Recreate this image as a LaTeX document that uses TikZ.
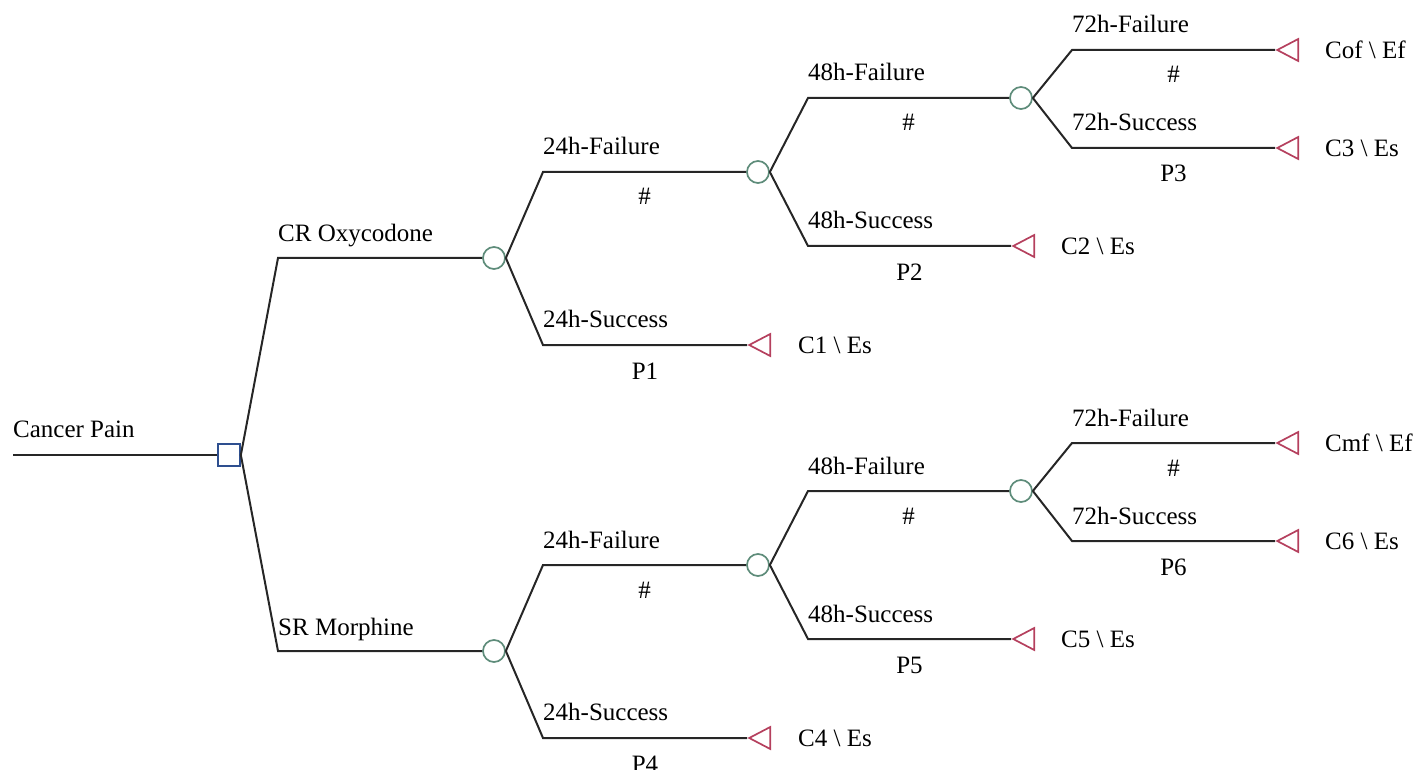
\documentclass[tikz,border=0pt]{standalone}
\usepackage{fontspec}
\setmainfont{Liberation Serif}
\usetikzlibrary{shapes.geometric,calc}
\definecolor{chancec}{HTML}{5E8C7A}
\definecolor{decc}{HTML}{2E4F8F}
\definecolor{termc}{HTML}{B5405E}
\tikzset{
  branch/.style={line width=2pt, draw=black!85, line join=miter},
  chance/.style={circle, draw=chancec, line width=1.7pt, minimum size=22pt, inner sep=0pt, fill=white},
  decision/.style={rectangle, draw=decc, line width=1.7pt, minimum size=22pt, inner sep=0pt, fill=white},
  terminal/.style={isosceles triangle, isosceles triangle stretches, shape border rotate=180,
    draw=termc, line width=1.7pt, minimum width=22pt, minimum height=21pt, inner sep=0pt},
  lbl/.style={anchor=base west, inner sep=0pt, font=\fontsize{25}{30}\selectfont},
  prob/.style={anchor=base, inner sep=0pt, font=\fontsize{25}{30}\selectfont},
  tlbl/.style={anchor=west, inner sep=0pt, font=\fontsize{25}{30}\selectfont},
}
\newcommand\halftree[8]{%
  \coordinate (k0) at (278,258);
  \node[chance] (A) at (494,258) {};
  \coordinate (k1) at (543,172);
  \node[chance] (B) at (758,172) {};
  \coordinate (k2) at (543,345);
  \node[terminal, anchor=apex] (T1) at (747,345) {};
  \coordinate (k3) at (808,98);
  \node[chance] (C) at (1021,98) {};
  \coordinate (k4) at (808,246);
  \node[terminal, anchor=apex] (T2) at (1011,246) {};
  \coordinate (k5) at (1072,50);
  \node[terminal, anchor=apex] (T3) at (1275,50) {};
  \coordinate (k6) at (1072,148);
  \node[terminal, anchor=apex] (T4) at (1275,148) {};
  \draw[branch] (A.east) -- (k1) -- (B.west);
  \draw[branch] (A.east) -- (k2) -- (T1.apex);
  \draw[branch] (B.east) -- (k3) -- (C.west);
  \draw[branch] (B.east) -- (k4) -- (T2.apex);
  \draw[branch] (C.east) -- (k5) -- (T3.apex);
  \draw[branch] (C.east) -- (k6) -- (T4.apex);
  \node[lbl] (lmain) at (278,242) {#1};
  \node[lbl] (l24f) at (543,155) {24h-Failure};
  \node[lbl] (l24s) at (543,327) {24h-Success};
  \node[lbl] (l48f) at (808,81) {48h-Failure};
  \node[lbl] (l48s) at (808,229) {48h-Success};
  \node[lbl] (l72f) at (1072,33) {72h-Failure};
  \node[lbl] (l72s) at (1072,131) {72h-Success};
  \node[prob] (h24) at ($(k1)!0.5!(B.west)+(0,33)$) {\#};
  \node[prob] (h48) at ($(k3)!0.5!(C.west)+(0,33)$) {\#};
  \node[prob] (h72) at ($(k5)!0.5!(T3.apex)+(0,33)$) {\#};
  \node[prob] (p24) at ($(k2)!0.5!(T1.apex)+(0,34)$) {#8};
  \node[prob] (p48) at ($(k4)!0.5!(T2.apex)+(0,34)$) {#7};
  \node[prob] (p72) at ($(k6)!0.5!(T4.apex)+(0,34)$) {#6};
  \node[tlbl] (t1) at ($(T1.apex)+(51,0)$) {#5};
  \node[tlbl] (t2) at ($(T2.apex)+(50,0)$) {#4};
  \node[tlbl] (t3) at ($(T3.apex)+(50,0)$) {#2};
  \node[tlbl] (t4) at ($(T4.apex)+(50,0)$) {#3};
}
\begin{document}
\begin{tikzpicture}[x=1pt, y=-1pt]
  \useasboundingbox (0,0) rectangle (1428,770);
  \coordinate (start) at (13,455);
  \node[decision] (root) at (229,455) {};
  \node[lbl] (lroot) at (13,437) {Cancer Pain};
  \begin{scope}[name prefix=u-]
    \halftree{CR Oxycodone}{Cof \textbackslash\ Ef}{C3 \textbackslash\ Es}{C2 \textbackslash\ Es}{C1 \textbackslash\ Es}{P3}{P2}{P1}
  \end{scope}
  \begin{scope}[name prefix=d-, yshift=-393pt]
    \halftree{SR Morphine}{Cmf \textbackslash\ Ef}{C6 \textbackslash\ Es}{C5 \textbackslash\ Es}{C4 \textbackslash\ Es}{P6}{P5}{P4}
  \end{scope}
  \draw[branch] (start) -- (root.west);
  \draw[branch] (root.east) -- (u-k0) -- (u-A.west);
  \draw[branch] (root.east) -- (d-k0) -- (d-A.west);
\end{tikzpicture}
\end{document}
